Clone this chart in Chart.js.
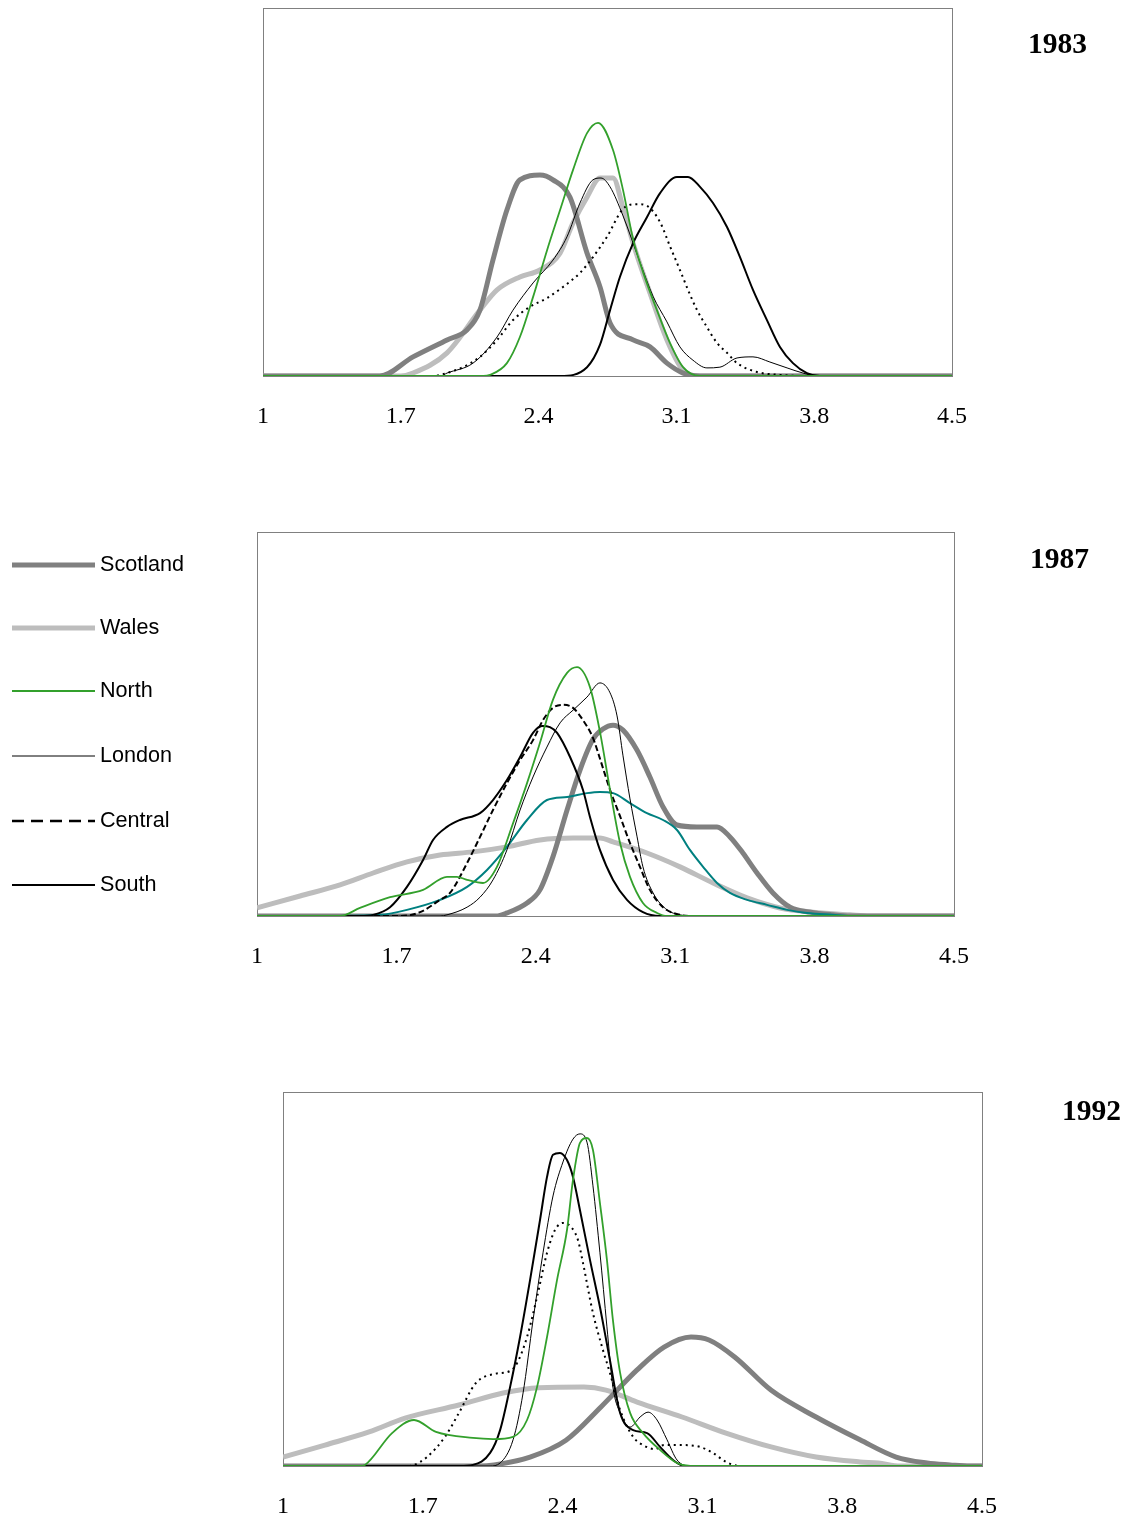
<!DOCTYPE html>
<html>
<head>
<meta charset="utf-8">
<script src="https://cdn.jsdelivr.net/npm/chart.js@4.4.1/dist/chart.umd.min.js"></script>
<style>
  html, body { margin: 0; padding: 0; background: #fff; }
  body { width: 1132px; height: 1520px; position: relative; overflow: hidden; }
  .panel { position: absolute; left: 0; width: 1132px; }
  .panel canvas { display: block; }
  .year { position: absolute; font-family: 'Liberation Serif', 'Times New Roman', serif; font-weight: bold;
          font-size: 29.5px; line-height: 30px; color: #000; white-space: nowrap; }
</style>
</head>
<body>
<div class="panel" style="top:0px;height:450px"><canvas id="c1983" width="1132" height="450"></canvas></div>
<div class="panel" style="top:470px;height:530px"><canvas id="c1987" width="1132" height="530"></canvas></div>
<div class="panel" style="top:1010px;height:510px"><canvas id="c1992" width="1132" height="510"></canvas></div>
<div class="year" style="left:1028px;top:28px">1983</div>
<div class="year" style="left:1030px;top:543px">1987</div>
<div class="year" style="left:1062px;top:1095px">1992</div>

<script>
// ---------- tick labels and categories ----------
const xTicks = [1, 1.7, 2.4, 3.1, 3.8, 4.5];
const xTickLabels = ['1', '1.7', '2.4', '3.1', '3.8', '4.5'];
const regions = ['Scotland', 'Wales', 'North', 'London', 'Central', 'South'];
const years = ['1983', '1987', '1992'];

// ---------- 1983 densities: [x, density as % of panel height] ----------
const scotland1983 = [[1,0],[1.594,0],[1.762,5.2],[1.935,9.8],[2.036,12.5],[2.102,17.9],[2.168,31.5],[2.239,45.1],[2.305,53.3],[2.407,54.6],[2.473,53.3],[2.559,48.6],[2.646,33.4],[2.712,24.2],[2.763,14.4],[2.880,9.8],[2.966,7.9],[3.052,3.5],[3.134,0.8],[3.22,0],[4.5,0]];
const wales1983 = [[1,0],[1.70,0],[1.762,0.8],[1.935,6.3],[2.102,17.9],[2.189,23.4],[2.305,26.9],[2.407,28.8],[2.509,33.4],[2.575,41.6],[2.646,48.6],[2.712,53.8],[2.778,53.8],[2.829,45.7],[2.880,36.1],[2.966,22.5],[3.052,9.8],[3.134,1.6],[3.22,0],[4.5,0]];
const north1983 = [[1,0],[2.12,0],[2.153,0.3],[2.239,3.5],[2.305,10.6],[2.372,21.5],[2.443,34.2],[2.509,45.1],[2.575,56.0],[2.646,66.0],[2.702,68.8],[2.778,61.4],[2.829,50.5],[2.880,37.2],[2.930,28.3],[3.001,17.9],[3.067,9.0],[3.134,2.4],[3.22,0],[4.5,0]];
const london1983 = [[1,0],[1.90,0],[1.935,0.8],[2.067,3.5],[2.189,10.6],[2.270,17.9],[2.372,25.3],[2.473,31.5],[2.544,37.8],[2.610,47.0],[2.676,53.3],[2.717,53.8],[2.763,51.4],[2.829,43.5],[2.915,30.9],[2.981,21.7],[3.052,14.7],[3.118,7.9],[3.184,4.3],[3.255,2.2],[3.321,2.4],[3.408,4.9],[3.489,5.2],[3.575,3.8],[3.662,2.2],[3.743,0.8],[3.814,0],[4.5,0]];
const central1983 = [[1,0],[1.87,0],[1.899,0.3],[2.016,2.4],[2.102,5.2],[2.189,9.8],[2.270,15.2],[2.356,18.8],[2.443,21.2],[2.524,24.2],[2.610,28.0],[2.676,32.3],[2.747,37.8],[2.829,45.4],[2.900,46.7],[2.951,46.2],[3.017,41.8],[3.067,35.3],[3.118,28.8],[3.159,23.4],[3.205,17.9],[3.255,13.3],[3.306,9.0],[3.357,6.3],[3.408,3.5],[3.509,1.1],[3.626,0.3],[3.728,0],[4.5,0]];
const south1983 = [[1,0],[2.509,0],[2.646,2.4],[2.712,8.5],[2.763,17.9],[2.813,26.9],[2.880,36.1],[2.951,43.2],[3.017,49.7],[3.103,54.1],[3.159,54.1],[3.220,51.4],[3.286,47.0],[3.357,40.5],[3.423,32.3],[3.489,23.4],[3.560,15.2],[3.626,7.9],[3.692,3.5],[3.763,0.8],[3.829,0],[4.5,0]];

// ---------- 1987 densities ----------
const scotland1987 = [[1,0],[2.20,0],[2.255,0.8],[2.356,3.4],[2.421,6.8],[2.486,15.4],[2.557,27.6],[2.622,38.0],[2.687,46.0],[2.737,48.7],[2.788,49.7],[2.838,48.4],[2.908,43.2],[2.973,36.2],[3.039,28.4],[3.109,23.7],[3.209,23.2],[3.310,23.2],[3.375,20.6],[3.440,16.4],[3.511,11.2],[3.591,6.0],[3.677,2.3],[3.777,1.0],[3.892,0.3],[3.98,0],[4.5,0]];
const wales1987 = [[1,2.1],[1.216,5.2],[1.417,8.1],[1.583,11.2],[1.753,14.1],[1.919,15.9],[2.085,16.7],[2.255,18.0],[2.421,19.8],[2.587,20.3],[2.722,20.3],[2.788,19.3],[2.958,16.4],[3.124,12.8],[3.290,8.6],[3.461,4.7],[3.626,2.1],[3.792,1.0],[3.978,0.3],[4.08,0],[4.5,0]];
const north1987 = [[1,0],[1.417,0],[1.517,2.1],[1.668,4.9],[1.834,6.8],[1.954,10.2],[2.004,10.2],[2.055,9.4],[2.135,8.6],[2.205,12.8],[2.286,24.2],[2.356,34.6],[2.421,45.1],[2.486,56.3],[2.557,63.3],[2.607,64.8],[2.672,59.6],[2.722,48.0],[2.773,32.8],[2.823,19.0],[2.873,10.2],[2.938,3.4],[3.009,0.8],[3.059,0],[4.5,0]];
const london1987 = [[1,0],[1.919,0],[1.954,0.3],[2.055,2.3],[2.120,4.9],[2.185,9.4],[2.255,17.2],[2.321,27.6],[2.386,36.2],[2.456,44.0],[2.522,50.3],[2.587,53.6],[2.657,57.0],[2.722,60.7],[2.773,58.1],[2.808,52.1],[2.838,41.7],[2.873,30.5],[2.908,20.8],[2.938,12.8],[2.989,6.0],[3.059,1.6],[3.124,0.3],[3.2,0],[4.5,0]];
const central1987 = [[1,0],[1.718,0],[1.819,1.0],[1.919,4.2],[1.969,6.0],[2.055,13.8],[2.120,20.6],[2.185,27.6],[2.255,34.6],[2.321,40.6],[2.386,45.8],[2.436,51.0],[2.486,54.2],[2.537,55.0],[2.587,54.2],[2.637,51.0],[2.687,46.4],[2.722,41.0],[2.773,32.8],[2.823,26.0],[2.873,19.0],[2.923,12.8],[2.973,6.8],[3.039,2.3],[3.124,0.3],[3.2,0],[4.5,0]];
const south1987 = [[1,0],[1.517,0],[1.583,0.3],[1.668,2.3],[1.753,7.6],[1.834,14.6],[1.884,19.8],[1.954,23.2],[2.019,25.0],[2.120,26.8],[2.185,30.2],[2.255,35.4],[2.321,41.4],[2.386,47.7],[2.431,49.5],[2.471,49.2],[2.507,47.7],[2.572,41.4],[2.637,32.8],[2.672,25.8],[2.722,17.2],[2.788,9.4],[2.858,4.2],[2.938,1.0],[3.024,0],[4.5,0]];
const extra1987 = [[1,0],[1.367,0],[1.618,0.3],[1.753,1.6],[1.919,4.2],[2.055,7.6],[2.155,12.0],[2.255,18.0],[2.356,25.0],[2.456,30.2],[2.557,31.0],[2.657,32.0],[2.722,32.3],[2.788,32.0],[2.873,29.4],[2.958,26.8],[3.039,25.0],[3.109,22.4],[3.174,17.2],[3.240,12.8],[3.310,8.6],[3.375,6.0],[3.461,4.2],[3.561,2.9],[3.662,1.6],[3.762,0.8],[3.892,0.3],[3.98,0],[4.5,0]];

// ---------- 1992 densities ----------
const scotland1992 = [[1,0],[1.986,0],[2.057,0.3],[2.237,2.4],[2.417,6.9],[2.592,15.8],[2.773,25.7],[2.908,31.8],[3.043,34.5],[3.133,33.7],[3.263,29.1],[3.443,20.3],[3.669,13.1],[3.889,7.0],[4.070,2.4],[4.225,0.8],[4.340,0.3],[4.44,0],[4.5,0]];
const wales1992 = [[1,2.4],[1.210,5.6],[1.431,9.1],[1.611,12.8],[1.881,16.3],[2.102,19.5],[2.282,20.9],[2.507,21.1],[2.617,20.3],[2.773,17.1],[2.998,13.1],[3.218,8.8],[3.444,5.1],[3.669,2.4],[3.889,1.1],[3.980,0.8],[4.09,0],[4.5,0]];
const north1992 = [[1,0],[1.386,0],[1.411,0.3],[1.546,8.8],[1.656,12.3],[1.766,9.1],[1.951,7.5],[2.052,7.2],[2.152,7.8],[2.222,12.3],[2.272,21.1],[2.322,34.5],[2.372,49.7],[2.422,63.1],[2.452,76.5],[2.487,86.4],[2.522,87.7],[2.552,84.5],[2.587,70.3],[2.622,55.1],[2.652,39.0],[2.688,24.9],[2.738,14.2],[2.803,8.8],[2.888,4.3],[2.973,0.8],[3.04,0],[4.5,0]];
const london1992 = [[1,0],[2.037,0],[2.087,0.8],[2.152,7.0],[2.202,19.5],[2.252,39.0],[2.302,57.0],[2.352,72.2],[2.402,81.3],[2.452,87.4],[2.487,88.8],[2.522,86.6],[2.552,74.9],[2.587,57.0],[2.622,37.2],[2.652,21.1],[2.688,14.2],[2.738,10.4],[2.788,13.1],[2.828,14.4],[2.873,12.3],[2.923,7.0],[2.973,1.6],[3.038,0],[4.5,0]];
const central1992 = [[1,0],[1.611,0],[1.656,0.3],[1.721,2.4],[1.811,7.8],[1.881,14.2],[1.966,22.2],[2.057,24.6],[2.137,25.4],[2.172,27.5],[2.222,34.5],[2.272,45.2],[2.322,57.0],[2.362,63.1],[2.402,65.0],[2.447,63.6],[2.477,60.4],[2.502,54.3],[2.552,40.9],[2.602,31.0],[2.637,24.9],[2.688,15.0],[2.753,7.8],[2.813,5.3],[2.863,4.5],[2.908,5.6],[2.998,5.6],[3.088,5.1],[3.153,3.5],[3.218,1.1],[3.288,0],[4.5,0]];
const south1992 = [[1,0],[1.886,0],[1.951,0.3],[2.037,3.5],[2.087,9.6],[2.137,21.1],[2.187,34.5],[2.237,49.7],[2.287,65.8],[2.322,77.3],[2.352,83.2],[2.387,83.7],[2.422,81.8],[2.452,77.3],[2.487,68.4],[2.537,55.1],[2.587,42.5],[2.637,28.3],[2.688,14.2],[2.753,9.6],[2.823,8.8],[2.888,5.1],[2.953,1.6],[3.01,0],[4.5,0]];

// ---------- styles ----------
const styles = {
  Scotland: { color: '#808080', width: 5, dash: [], order: 3 },
  Wales:    { color: '#bdbdbd', width: 5, dash: [], order: 3 },
  North:    { color: '#33a02c', width: 1.8, dash: [], order: 0 },
  London:   { color: '#000000', width: 1, dash: [], order: 0 },
  Central:  { color: '#000000', width: 2, dash: [2, 4], order: 0 },
  South:    { color: '#000000', width: 2, dash: [], order: 0 },
  Extra:    { color: '#008080', width: 2, dash: [], order: 1 }
};
const legendStyles = {
  Scotland: { color: '#808080', width: 5, dash: [] },
  Wales:    { color: '#bdbdbd', width: 5, dash: [] },
  North:    { color: '#33a02c', width: 2, dash: [] },
  London:   { color: '#000000', width: 1, dash: [] },
  Central:  { color: '#000000', width: 2.5, dash: [12, 7] },
  South:    { color: '#000000', width: 2, dash: [] }
};

function toPoints(arr) { return arr.map(p => ({ x: p[0], y: p[1] })); }
function ds(label, arr, styleKey, dashOverride) {
  const s = styles[styleKey];
  return {
    label: label,
    data: toPoints(arr),
    borderColor: s.color,
    backgroundColor: s.color,
    borderWidth: s.width,
    borderDash: dashOverride || s.dash,
    pointRadius: 0,
    fill: false,
    cubicInterpolationMode: 'monotone',
    order: s.order
  };
}

const boxPlugin = {
  id: 'plotBox',
  beforeDatasetsDraw(chart) {
    const { ctx, chartArea: a } = chart;
    ctx.save();
    ctx.strokeStyle = '#808080';
    ctx.lineWidth = 1;
    ctx.strokeRect(Math.round(a.left) + 0.5, Math.round(a.top) + 0.5,
                   Math.round(a.right - a.left), Math.round(a.bottom - a.top));
    ctx.restore();
  }
};

const sideLegendPlugin = {
  id: 'sideLegend',
  afterDraw(chart, args, opts) {
    if (!opts || !opts.show) return;
    const ctx = chart.ctx;
    ctx.save();
    regions.forEach((name, i) => {
      const st = legendStyles[name];
      const y = opts.ys[i];
      ctx.beginPath();
      ctx.strokeStyle = st.color;
      ctx.lineWidth = st.width;
      ctx.setLineDash(st.dash);
      ctx.moveTo(opts.x0, y);
      ctx.lineTo(opts.x1, y);
      ctx.stroke();
      ctx.setLineDash([]);
      ctx.fillStyle = '#000';
      ctx.font = "21.6px 'Liberation Sans', Arial, sans-serif";
      ctx.textBaseline = 'middle';
      ctx.textAlign = 'left';
      ctx.fillText(name, opts.textX, y);
    });
    ctx.restore();
  }
};

function makeChart(id, datasets, padding, legendOpts) {
  return new Chart(document.getElementById(id), {
    type: 'line',
    data: { datasets: datasets },
    plugins: [boxPlugin, sideLegendPlugin],
    options: {
      responsive: false,
      devicePixelRatio: 1,
      animation: false,
      events: [],
      layout: { padding: padding },
      plugins: {
        legend: { display: false },
        tooltip: { enabled: false },
        title: { display: false },
        sideLegend: legendOpts || { show: false }
      },
      scales: {
        x: {
          type: 'linear', min: 1, max: 4.5,
          grid: { display: false, drawTicks: false },
          border: { display: false },
          ticks: {
            padding: 26, color: '#000', autoSkip: false, maxRotation: 0,
            font: { family: "'Liberation Serif', 'Times New Roman', serif", size: 24 },
            callback: (v, i) => xTickLabels[i]
          },
          afterBuildTicks: s => { s.ticks = xTicks.map(v => ({ value: v })); },
          afterFit: s => { s.height = 50; }
        },
        y: { display: false, min: 0, max: 100 }
      }
    }
  });
}

makeChart('c1983', [
  ds('Scotland', scotland1983, 'Scotland'),
  ds('Wales', wales1983, 'Wales'),
  ds('North', north1983, 'North'),
  ds('London', london1983, 'London'),
  ds('Central', central1983, 'Central'),
  ds('South', south1983, 'South')
], { left: 263, right: 180, top: 8, bottom: 24 });

makeChart('c1987', [
  ds('Scotland', scotland1987, 'Scotland'),
  ds('Wales', wales1987, 'Wales'),
  ds('North', north1987, 'North'),
  ds('London', london1987, 'London'),
  ds('Central', central1987, 'Central', [6, 3]),
  ds('South', south1987, 'South'),
  ds('', extra1987, 'Extra')
], { left: 257, right: 178, top: 62, bottom: 34 },
{ show: true, x0: 12, x1: 95, textX: 100, ys: [565, 628, 691, 756, 821, 885].map(v => v - 470) });

makeChart('c1992', [
  ds('Scotland', scotland1992, 'Scotland'),
  ds('Wales', wales1992, 'Wales'),
  ds('North', north1992, 'North'),
  ds('London', london1992, 'London'),
  ds('Central', central1992, 'Central'),
  ds('South', south1992, 'South')
], { left: 283, right: 150, top: 82, bottom: 4 });
</script>
</body>
</html>
